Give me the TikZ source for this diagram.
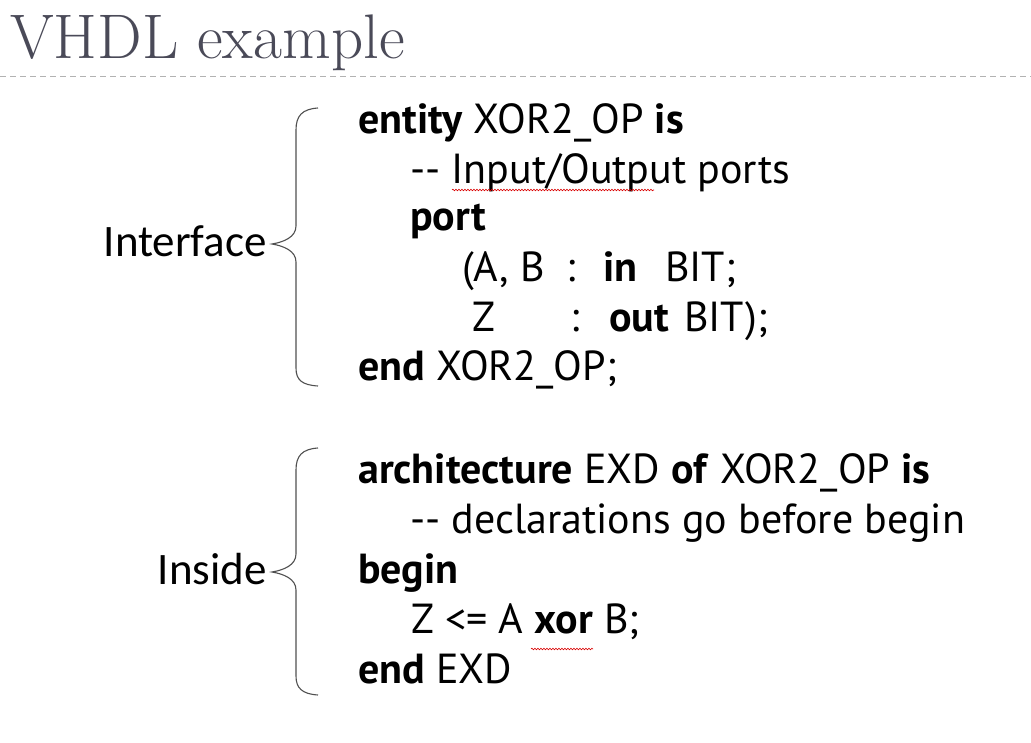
\documentclass[tikz,border=0pt]{standalone}
\usepackage{fontspec}
\usetikzlibrary{decorations.pathmorphing}
\newfontfamily\codefont{PT Sans}
\newfontfamily\labelfont{Carlito}
\definecolor{titlegray}{HTML}{4A4A58}
\definecolor{bracegray}{HTML}{505050}
\begin{document}
\begin{tikzpicture}[x=1pt,y=-1pt,
  code/.style={anchor=base west,inner sep=0pt,font=\codefont\fontsize{42}{48}\selectfont},
  lbl/.style={anchor=base east,inner sep=0pt,font=\labelfont\fontsize{45}{50}\selectfont},
  brace/.style={draw=bracegray,line width=1.1pt},
  wavy/.style={draw=red!85!black,line width=0.6pt,decorate,decoration={snake,amplitude=0.8pt,segment length=3pt}}]
\useasboundingbox (0,0) rectangle (1031,742);
% title
\node[anchor=base west,inner sep=0pt,text=titlegray,font=\fontsize{63}{66}\selectfont] (title) at (10,58) {VHDL example};
\draw[gray!60,line width=1pt,dash pattern=on 6pt off 4pt] (0,76) -- (1031,76);
% interface block
\node[code] (l1) at (358,133) {\textbf{entity} XOR2\_OP \textbf{is}};
\node[code] (l2) at (410,183) {-{}- Input/Output ports};
\node[code] (l3) at (410,230) {\textbf{port}};
\node[code] (l4a) at (462,281) {(A, B};
\node[code] (l4b) at (566,281) {:};
\node[code] (l4c) at (603,281) {\textbf{in}};
\node[code] (l4d) at (665,281) {BIT;};
\node[code] (l5a) at (472,331) {Z};
\node[code] (l5b) at (570,331) {:};
\node[code] (l5c) at (609,331) {\textbf{out}};
\node[code] (l5d) at (684,331) {BIT);};
\node[code] (l6) at (358,380) {\textbf{end} XOR2\_OP;};
\draw[wavy] (452,190) -- (654,190);
% inside block
\node[code] (m1) at (358,483) {\textbf{architecture} EXD \textbf{of} XOR2\_OP \textbf{is}};
\node[code] (m2) at (410,533) {-{}- declarations go before begin};
\node[code] (m3) at (358,583) {\textbf{begin}};
\node[code] (m4) at (411,633) {Z <= A \textbf{xor} B;};
\node[code] (m5) at (358,683) {\textbf{end} EXD};
\draw[wavy] (531,649) -- (593,649);
% labels
\node[lbl] (iface) at (267,256) {Interface};
\node[lbl] (inside) at (267,584) {Inside};
% braces
\draw[brace] (318,108) .. controls (302,109) and (296,116) .. (296,130) -- (296,226)
  .. controls (296,237) and (284,242) .. (272,244) .. controls (284,246) and (296,251) .. (296,262)
  -- (296,368) .. controls (296,380) and (302,385) .. (318,386);
\draw[brace] (318,448) .. controls (302,449) and (296,456) .. (296,470) -- (296,554)
  .. controls (296,565) and (284,570) .. (272,572) .. controls (284,574) and (296,579) .. (296,590)
  -- (296,676) .. controls (296,688) and (302,694) .. (318,695);
\end{tikzpicture}
\end{document}
